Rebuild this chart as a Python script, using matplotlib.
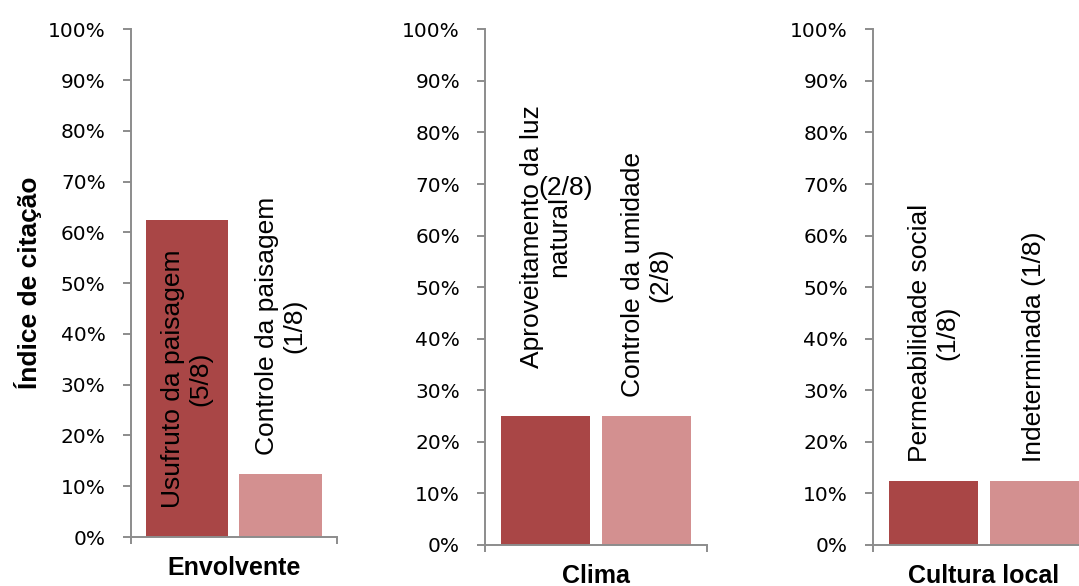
import matplotlib
matplotlib.use("Agg")
import matplotlib.pyplot as plt
from matplotlib.ticker import PercentFormatter

# data
groups = ["Envolvente", "Clima", "Cultura local"]
envolvente_labels = ["Usufruto da paisagem\n(5/8)", "Controle da paisagem\n(1/8)"]
envolvente_values = [0.625, 0.125]
clima_labels = ["Aproveitamento da luz\nnatural", "Controle da umidade\n(2/8)"]
clima_values = [0.25, 0.25]
cultura_labels = ["Permeabilidade social\n(1/8)", "Indeterminada (1/8)"]
cultura_values = [0.125, 0.125]
yticks = [0, 0.1, 0.2, 0.3, 0.4, 0.5, 0.6, 0.7, 0.8, 0.9, 1.0]

dark = "#a94646"
light = "#d39090"
spine_color = "#8c8c8c"
label_font = ["Liberation Sans", "DejaVu Sans"]

fig = plt.figure(figsize=(10.79, 5.86), dpi=100)

# axes rectangles in figure fractions (left, bottom, width, height)
rects = [
    (0.1211, 0.0836, 0.1911, 0.8664),
    (0.4495, 0.0700, 0.2057, 0.8800),
    (0.8091, 0.0700, 0.2057, 0.8800),
]
all_labels = [envolvente_labels, clima_labels, cultura_labels]
all_values = [envolvente_values, clima_values, cultura_values]

# each panel is one category holding two series side by side
bar_w = 0.4
offsets = [-0.2275, 0.2275]

for i, (rect, name, labels, values) in enumerate(zip(rects, groups, all_labels, all_values)):
    ax = fig.add_axes(rect)
    ax.bar(offsets, values, width=bar_w, color=[dark, light], zorder=2)
    ax.set_xlim(-0.5, 0.5)
    ax.set_ylim(0, 1)
    ax.set_yticks(yticks)
    ax.yaxis.set_major_formatter(PercentFormatter(1.0, decimals=0))
    ax.set_xticks([-0.5, 0.5])
    ax.tick_params(axis="x", labelbottom=False, direction="out", length=5,
                   width=1.4, color=spine_color)
    ax.tick_params(axis="y", direction="out", length=5.5, width=1.4,
                   color=spine_color, labelsize=14.5, pad=12.5)
    for lab in ax.get_yticklabels():
        lab.set_family("DejaVu Sans")
    for side in ["top", "right"]:
        ax.spines[side].set_visible(False)
    for side in ["left", "bottom"]:
        ax.spines[side].set_color(spine_color)
        ax.spines[side].set_linewidth(1.4)

    ax.annotate(name, xy=(0.5, 0), xycoords="axes fraction", xytext=(0, -22.5),
                textcoords="offset points", ha="center", va="center",
                fontsize=18, fontweight="bold", family=label_font)

    # data labels
    for x, v, lab in zip(offsets, values, labels):
        if i == 0 and x < 0:
            # label sits centred inside the tall bar
            ax.annotate(lab, xy=(x, v / 2), ha="center", va="center",
                        rotation=90, multialignment="center", fontsize=19,
                        linespacing=1.2, family=label_font, zorder=3)
        elif i == 1 and x < 0:
            ax.annotate(lab, xy=(x, v), xytext=(0, 34.5), textcoords="offset points",
                        ha="center", va="bottom", rotation=90,
                        multialignment="center", fontsize=19, linespacing=1.2,
                        family=label_font, annotation_clip=False)
            ax.annotate("(2/8)", xy=(x, v), xytext=(14.4, 164),
                        textcoords="offset points", ha="center", va="center",
                        fontsize=19, family=label_font, annotation_clip=False)
        else:
            ax.annotate(lab, xy=(x, v), xytext=(0, 13.5), textcoords="offset points",
                        ha="center", va="bottom", rotation=90,
                        multialignment="center", fontsize=19, linespacing=1.2,
                        family=label_font, annotation_clip=False)

fig.text(28 / 1079, 1 - 283 / 586, "Índice de citação", rotation=90,
         ha="center", va="center", fontsize=19, fontweight="bold",
         family=label_font)

fig.savefig("out.png", dpi=100)
